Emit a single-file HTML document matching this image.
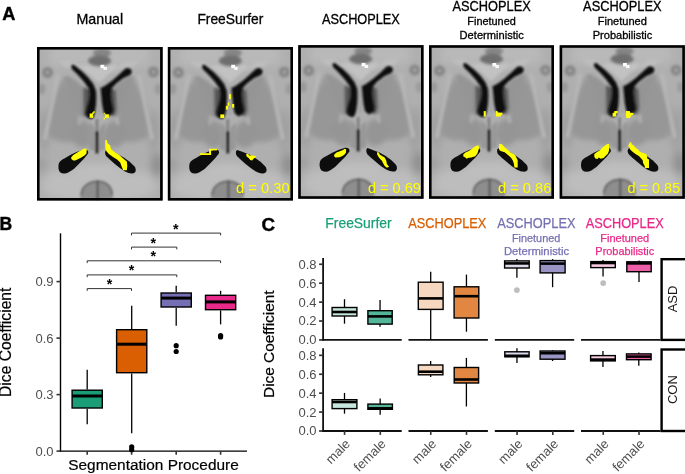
<!DOCTYPE html>
<html><head><meta charset="utf-8"><style>
html,body{margin:0;padding:0;background:#fff;}
svg{display:block;}
</style></head><body>
<svg width="685" height="474" viewBox="0 0 685 474">
<defs>
<filter id="fb5" x="-50%" y="-50%" width="200%" height="200%"><feGaussianBlur stdDeviation="4"/></filter>
<filter id="fb2" x="-50%" y="-50%" width="200%" height="200%"><feGaussianBlur stdDeviation="1.8"/></filter>
<filter id="fb1" x="-50%" y="-50%" width="200%" height="200%"><feGaussianBlur stdDeviation="1"/></filter>
<filter id="fb08" x="-20%" y="-20%" width="140%" height="140%"><feGaussianBlur stdDeviation="0.75"/></filter>
<filter id="fb05" x="-50%" y="-50%" width="200%" height="200%"><feGaussianBlur stdDeviation="0.5"/></filter>
<filter id="fb03" x="-20%" y="-20%" width="140%" height="140%"><feGaussianBlur stdDeviation="0.3"/></filter>
<filter id="fb25" x="-50%" y="-50%" width="200%" height="200%"><feGaussianBlur stdDeviation="2.6"/></filter>
<filter id="fb11" x="-30%" y="-30%" width="160%" height="160%"><feGaussianBlur stdDeviation="1.05"/></filter>
</defs>
<rect width="685" height="474" fill="#fff"/>
<text x="2.3" y="19.8" font-family="'Liberation Sans', Arial, sans-serif" font-weight="bold" font-size="18.2" fill="#000" stroke="#000" stroke-width="0.4">A</text>
<text x="99.8" y="23.9" text-anchor="middle" font-family="'Liberation Sans', Arial, sans-serif" font-size="14.2" textLength="46.7" lengthAdjust="spacingAndGlyphs" stroke="#000" stroke-width="0.3">Manual</text>
<text x="230.4" y="23.8" text-anchor="middle" font-family="'Liberation Sans', Arial, sans-serif" font-size="14.2" textLength="65.9" lengthAdjust="spacingAndGlyphs" stroke="#000" stroke-width="0.3">FreeSurfer</text>
<text x="360.9" y="23.8" text-anchor="middle" font-family="'Liberation Sans', Arial, sans-serif" font-size="14.1" textLength="77.9" lengthAdjust="spacingAndGlyphs" stroke="#000" stroke-width="0.3">ASCHOPLEX</text>
<text x="491.6" y="10.9" text-anchor="middle" font-family="'Liberation Sans', Arial, sans-serif" font-size="14.1" textLength="78.2" lengthAdjust="spacingAndGlyphs" stroke="#000" stroke-width="0.3">ASCHOPLEX</text>
<text x="491.55" y="24.9" text-anchor="middle" font-family="'Liberation Sans', Arial, sans-serif" font-size="11.1" textLength="48.5" lengthAdjust="spacingAndGlyphs" stroke="#000" stroke-width="0.3">Finetuned</text>
<text x="491.7" y="38.9" text-anchor="middle" font-family="'Liberation Sans', Arial, sans-serif" font-size="11.1" textLength="64.2" lengthAdjust="spacingAndGlyphs" stroke="#000" stroke-width="0.3">Deterministic</text>
<text x="622.3" y="10.9" text-anchor="middle" font-family="'Liberation Sans', Arial, sans-serif" font-size="14.1" textLength="78.4" lengthAdjust="spacingAndGlyphs" stroke="#000" stroke-width="0.3">ASCHOPLEX</text>
<text x="622.3" y="24.9" text-anchor="middle" font-family="'Liberation Sans', Arial, sans-serif" font-size="11.1" textLength="49.2" lengthAdjust="spacingAndGlyphs" stroke="#000" stroke-width="0.3">Finetuned</text>
<text x="622.5" y="38.9" text-anchor="middle" font-family="'Liberation Sans', Arial, sans-serif" font-size="11.1" textLength="59.6" lengthAdjust="spacingAndGlyphs" stroke="#000" stroke-width="0.3">Probabilistic</text>
<g transform="translate(37.0,47.0)">
<svg x="0" y="0" width="125.7" height="153.6" overflow="hidden">
<rect x="0" y="0" width="130" height="160" fill="#afafaf"/>
<g filter="url(#fb5)">
<rect x="12" y="0" width="100" height="18" fill="#b9b9b9"/>
<ellipse cx="61" cy="123" rx="26" ry="7" fill="#bfbfbf"/>
<path d="M8,128 C25,120 40,128 61,131 C82,128 98,120 116,128 L116,134 C98,128 82,134 61,137 C40,134 25,128 8,134 Z" fill="#bdbdbd"/>
<ellipse cx="62" cy="140" rx="58" ry="16" fill="#bdbdbd"/>
<ellipse cx="120" cy="118" rx="6" ry="12" fill="#8c8c8c"/>
<ellipse cx="7" cy="84" rx="5.5" ry="22" fill="#9d9d9d"/>
<ellipse cx="117" cy="84" rx="5.5" ry="22" fill="#9d9d9d"/>
<ellipse cx="4" cy="118" rx="5" ry="8" fill="#9a9a9a"/>
</g>
<g filter="url(#fb25)">
<path d="M27,30 C35,40 41,50 43,65 C43,78 41,88 38,94 C30,97 18,95 10,88 C11,70 14,50 27,30 Z" fill="#979797"/>
<path d="M96,30 C88,40 82,50 80,65 C80,78 82,88 85,94 C93,97 105,95 113,88 C112,70 109,50 96,30 Z" fill="#979797"/>
<ellipse cx="45" cy="87" rx="12" ry="14" transform="rotate(-25 45 87)" fill="#959595"/>
<ellipse cx="78" cy="87" rx="12" ry="14" transform="rotate(25 78 87)" fill="#959595"/>
</g>
<g filter="url(#fb2)">
<path d="M19,28 C16,45 12,65 6,92 L9.5,93 C15,66 19,45 23,28 Z" fill="#b8b8b8"/>
<path d="M104,28 C107,45 111,65 117,92 L113.5,93 C108,66 104,45 100,28 Z" fill="#b8b8b8"/>
<path d="M31,26 C38,38 44,50 46,62 C46,68 45,74 43,78 L40.5,77 C42,72 43,67 43,62 C41,51 35,40 28,28 Z" fill="#afafaf"/>
<path d="M92,26 C85,38 79,50 77,62 C77,68 78,74 80,78 L82.5,77 C81,72 80,67 80,62 C82,51 88,40 95,28 Z" fill="#b4b4b4"/>
<path d="M48.5,42 L39.5,34 L30.5,28.5 L26.5,30 L30.5,42 L35.5,55 L39.5,68 L46.5,70 Z" fill="#959595"/>
<path d="M75,42 L84,34 L93,28.5 L97,30 L93,42 L88,55 L84,68 L77,70 Z" fill="#959595"/>
<path d="M22,14 L36,14 L50,26 L40,22 L28,20 Z" fill="#bdbdbd"/>
<path d="M102,14 L88,14 L74,26 L84,22 L96,20 Z" fill="#bdbdbd"/>
<polygon points="42,18 62,36 82,18" fill="#c2c2c2"/>
<rect x="60.4" y="40" width="3.2" height="28" fill="#a2a2a2"/>
<ellipse cx="65" cy="6" rx="9" ry="4.5" fill="#858585"/>
<ellipse cx="62.5" cy="14" rx="11.5" ry="5.5" fill="#6e6e6e"/>
<circle cx="10.5" cy="25.5" r="5.5" fill="#868686"/>
<circle cx="116.5" cy="25" r="5.5" fill="#888888"/>
<ellipse cx="5" cy="42" rx="3.5" ry="5.5" fill="#999"/>
<ellipse cx="121" cy="42" rx="3.5" ry="5.5" fill="#9c9c9c"/>
</g>
<g filter="url(#fb1)">
<circle cx="10.5" cy="25.5" r="1.8" fill="#a4a4a4"/>
<circle cx="116.5" cy="25" r="1.8" fill="#a4a4a4"/>
<path d="M43,152 C43,140 51,133.5 60.5,133.5 C70,133.5 76,140 76,152 Z" fill="#8e8e8e"/>
<path d="M44.5,148 C44.5,140 51.5,134.5 60.5,134.5 C69.5,134.5 75,140 75,148" fill="none" stroke="#6e6e6e" stroke-width="2.2"/>
<rect x="59.5" y="133.5" width="2.2" height="20" fill="#5a5a5a"/>
<path d="M52,76 L57,80 L58,104 L52,102 Z" fill="#989898"/>
<path d="M68,76 L63,80 L62,104 L68,102 Z" fill="#989898"/>
<rect x="58.6" y="72" width="2.8" height="14" fill="#808080"/>
<rect x="58.3" y="84" width="3.4" height="22.5" rx="1.6" fill="#2c2c2c"/>
</g>
<g filter="url(#fb2)" fill="#555">
<path d="M46.5,40 L54,43 L54,71 L46.5,69 Z"/>
<path d="M72.5,40 L78.5,44 L79.5,63 L77.5,69 L72.5,68 Z"/>
</g>
<g filter="url(#fb11)" fill="#101010">
<path d="M34.2,19.2 C35,17.3 37,17.6 38.1,18.8 L45.3,24.5 L51.7,30.9 L56.5,37.3 L59,43.7 L59.3,50.1 L59,58.2 L57.8,66.2 L56.5,70.2 C55.5,71.8 54,72.2 53.3,71.8 L50.1,70.2 L48.5,66.2 L50.1,59.8 L52,53.3 L52.5,46.9 L51.8,41.5 L46.6,34.3 L40.8,27.8 L34.9,22.0 Z"/>
<path d="M64.4,40.8 L69.2,38 L75.6,33.2 L82.1,27.6 L88.5,21.5 C90.5,20.3 93.8,21 94.6,23.6 C95,26.2 93.8,27.8 92.5,28.2 L86.1,31.2 L78.9,36.7 L74.8,41.3 L74,46.9 L74.8,55 L76.4,63 L75.6,66.2 L70.8,69.4 L66.8,66.2 L65.2,58.2 L64.4,50.1 L63.6,40.5 Z"/>
</g>
<g filter="url(#fb08)" fill="#0e0e0e">
<path d="M50.3,103.3 C51.5,104 51.8,106.5 50.3,107.6 L46.9,111.8 L41.8,116.9 L36.8,121.9 L31.7,125.3 C29,126.8 25.5,127 23.3,125.5 C21.3,123.5 21,119.5 21.8,116.5 C22.8,114 25,112.5 27.8,111.2 L34.1,107.6 L40.1,104.8 L46.9,102.7 C48.5,102.4 49.6,102.7 50.3,103.3 Z"/>
<path d="M69.4,103 L74.5,104.8 L81.2,107.4 L87.1,110.7 L93,115 L97.3,119.2 C99,121 99.3,124.5 97.5,125.8 C95.5,127 92,126.6 88,124.5 L82.9,121.1 L77.8,116.9 L72.8,112.6 L69.4,109.3 C67.8,107.5 67.5,104 69.4,103 Z"/>
</g>
<g filter="url(#fb05)"><rect x="63.4" y="17.8" width="3.9" height="3.4" fill="#ffffff"/><rect x="66.4" y="19.8" width="3.5" height="3.1" fill="#f8f8f8"/></g>
<g filter="url(#fb03)"><rect x="52.6" y="66.5" width="3.50" height="4.30" fill="#ffff00"/>
<rect x="56.2" y="64.3" width="1.60" height="1.50" fill="#ffff00"/>
<rect x="55.2" y="65.3" width="1.60" height="1.70" fill="#ffff00"/>
<rect x="67.8" y="67.3" width="4.10" height="3.50" fill="#ffff00"/>
<rect x="66.6" y="65.9" width="1.40" height="1.30" fill="#ffff00"/>
<rect x="66.6" y="70.9" width="1.40" height="1.50" fill="#ffff00"/>
<polygon points="34.1,110.5 36.2,107.9 38.7,106.4 42.3,104.3 45.9,102.3 48.4,101.3 49.7,102.3 49.5,106.4 47.4,108.4 44.3,110.5 41.3,112 38.2,113.5 36.2,113.5 34.3,112" fill="#ffff00"/>
<polygon points="68.4,93.1 69.9,93.1 70.4,96.2 73,98.2 74,102.3 78.1,105.4 82.2,107.9 86.2,111.5 89.8,114.6 90.3,118.7 89.8,123.3 86.2,123.3 84.7,119.7 83.2,115.6 80.1,112.5 76,110 71.9,106.9 69.4,104.3 68.4,101.3 68.2,96.2" fill="#ffff00"/></g>
</svg>
<rect x="1.3" y="1.3" width="123.10" height="151.00" fill="none" stroke="#000" stroke-width="2.6"/>
</g>
<g transform="translate(167.8,47.0)">
<svg x="0" y="0" width="125.2" height="153.6" overflow="hidden">
<rect x="0" y="0" width="130" height="160" fill="#afafaf"/>
<g filter="url(#fb5)">
<rect x="12" y="0" width="100" height="18" fill="#b9b9b9"/>
<ellipse cx="61" cy="123" rx="26" ry="7" fill="#bfbfbf"/>
<path d="M8,128 C25,120 40,128 61,131 C82,128 98,120 116,128 L116,134 C98,128 82,134 61,137 C40,134 25,128 8,134 Z" fill="#bdbdbd"/>
<ellipse cx="62" cy="140" rx="58" ry="16" fill="#bdbdbd"/>
<ellipse cx="120" cy="118" rx="6" ry="12" fill="#8c8c8c"/>
<ellipse cx="7" cy="84" rx="5.5" ry="22" fill="#9d9d9d"/>
<ellipse cx="117" cy="84" rx="5.5" ry="22" fill="#9d9d9d"/>
<ellipse cx="4" cy="118" rx="5" ry="8" fill="#9a9a9a"/>
</g>
<g filter="url(#fb25)">
<path d="M27,30 C35,40 41,50 43,65 C43,78 41,88 38,94 C30,97 18,95 10,88 C11,70 14,50 27,30 Z" fill="#979797"/>
<path d="M96,30 C88,40 82,50 80,65 C80,78 82,88 85,94 C93,97 105,95 113,88 C112,70 109,50 96,30 Z" fill="#979797"/>
<ellipse cx="45" cy="87" rx="12" ry="14" transform="rotate(-25 45 87)" fill="#959595"/>
<ellipse cx="78" cy="87" rx="12" ry="14" transform="rotate(25 78 87)" fill="#959595"/>
</g>
<g filter="url(#fb2)">
<path d="M19,28 C16,45 12,65 6,92 L9.5,93 C15,66 19,45 23,28 Z" fill="#b8b8b8"/>
<path d="M104,28 C107,45 111,65 117,92 L113.5,93 C108,66 104,45 100,28 Z" fill="#b8b8b8"/>
<path d="M31,26 C38,38 44,50 46,62 C46,68 45,74 43,78 L40.5,77 C42,72 43,67 43,62 C41,51 35,40 28,28 Z" fill="#afafaf"/>
<path d="M92,26 C85,38 79,50 77,62 C77,68 78,74 80,78 L82.5,77 C81,72 80,67 80,62 C82,51 88,40 95,28 Z" fill="#b4b4b4"/>
<path d="M48.5,42 L39.5,34 L30.5,28.5 L26.5,30 L30.5,42 L35.5,55 L39.5,68 L46.5,70 Z" fill="#959595"/>
<path d="M75,42 L84,34 L93,28.5 L97,30 L93,42 L88,55 L84,68 L77,70 Z" fill="#959595"/>
<path d="M22,14 L36,14 L50,26 L40,22 L28,20 Z" fill="#bdbdbd"/>
<path d="M102,14 L88,14 L74,26 L84,22 L96,20 Z" fill="#bdbdbd"/>
<polygon points="42,18 62,36 82,18" fill="#c2c2c2"/>
<rect x="60.4" y="40" width="3.2" height="28" fill="#a2a2a2"/>
<ellipse cx="65" cy="6" rx="9" ry="4.5" fill="#858585"/>
<ellipse cx="62.5" cy="14" rx="11.5" ry="5.5" fill="#6e6e6e"/>
<circle cx="10.5" cy="25.5" r="5.5" fill="#868686"/>
<circle cx="116.5" cy="25" r="5.5" fill="#888888"/>
<ellipse cx="5" cy="42" rx="3.5" ry="5.5" fill="#999"/>
<ellipse cx="121" cy="42" rx="3.5" ry="5.5" fill="#9c9c9c"/>
</g>
<g filter="url(#fb1)">
<circle cx="10.5" cy="25.5" r="1.8" fill="#a4a4a4"/>
<circle cx="116.5" cy="25" r="1.8" fill="#a4a4a4"/>
<path d="M43,152 C43,140 51,133.5 60.5,133.5 C70,133.5 76,140 76,152 Z" fill="#8e8e8e"/>
<path d="M44.5,148 C44.5,140 51.5,134.5 60.5,134.5 C69.5,134.5 75,140 75,148" fill="none" stroke="#6e6e6e" stroke-width="2.2"/>
<rect x="59.5" y="133.5" width="2.2" height="20" fill="#5a5a5a"/>
<path d="M52,76 L57,80 L58,104 L52,102 Z" fill="#989898"/>
<path d="M68,76 L63,80 L62,104 L68,102 Z" fill="#989898"/>
<rect x="58.6" y="72" width="2.8" height="14" fill="#808080"/>
<rect x="58.3" y="84" width="3.4" height="22.5" rx="1.6" fill="#2c2c2c"/>
</g>
<g filter="url(#fb2)" fill="#555">
<path d="M46.5,40 L54,43 L54,71 L46.5,69 Z"/>
<path d="M72.5,40 L78.5,44 L79.5,63 L77.5,69 L72.5,68 Z"/>
</g>
<g filter="url(#fb11)" fill="#101010">
<path d="M34.2,19.2 C35,17.3 37,17.6 38.1,18.8 L45.3,24.5 L51.7,30.9 L56.5,37.3 L59,43.7 L59.3,50.1 L59,58.2 L57.8,66.2 L56.5,70.2 C55.5,71.8 54,72.2 53.3,71.8 L50.1,70.2 L48.5,66.2 L50.1,59.8 L52,53.3 L52.5,46.9 L51.8,41.5 L46.6,34.3 L40.8,27.8 L34.9,22.0 Z"/>
<path d="M64.4,40.8 L69.2,38 L75.6,33.2 L82.1,27.6 L88.5,21.5 C90.5,20.3 93.8,21 94.6,23.6 C95,26.2 93.8,27.8 92.5,28.2 L86.1,31.2 L78.9,36.7 L74.8,41.3 L74,46.9 L74.8,55 L76.4,63 L75.6,66.2 L70.8,69.4 L66.8,66.2 L65.2,58.2 L64.4,50.1 L63.6,40.5 Z"/>
</g>
<g filter="url(#fb08)" fill="#0e0e0e">
<path d="M50.3,103.3 C51.5,104 51.8,106.5 50.3,107.6 L46.9,111.8 L41.8,116.9 L36.8,121.9 L31.7,125.3 C29,126.8 25.5,127 23.3,125.5 C21.3,123.5 21,119.5 21.8,116.5 C22.8,114 25,112.5 27.8,111.2 L34.1,107.6 L40.1,104.8 L46.9,102.7 C48.5,102.4 49.6,102.7 50.3,103.3 Z"/>
<path d="M69.4,103 L74.5,104.8 L81.2,107.4 L87.1,110.7 L93,115 L97.3,119.2 C99,121 99.3,124.5 97.5,125.8 C95.5,127 92,126.6 88,124.5 L82.9,121.1 L77.8,116.9 L72.8,112.6 L69.4,109.3 C67.8,107.5 67.5,104 69.4,103 Z"/>
</g>
<g filter="url(#fb05)"><rect x="63.4" y="17.8" width="3.9" height="3.4" fill="#ffffff"/><rect x="66.4" y="19.8" width="3.5" height="3.1" fill="#f8f8f8"/></g>
<g filter="url(#fb03)"><rect x="61.2" y="47.1" width="2.00" height="4.90" fill="#ffff00"/>
<rect x="59.9" y="55.4" width="1.50" height="3.50" fill="#ffff00"/>
<rect x="58.1" y="58.9" width="2.20" height="3.70" fill="#ffff00"/>
<rect x="64.3" y="57.0" width="2.10" height="3.70" fill="#ffff00"/>
<rect x="52.5" y="67.4" width="3.90" height="3.60" fill="#ffff00"/>
<rect x="32.3" y="106.2" width="10.20" height="1.80" fill="#ffff00"/>
<rect x="41.3" y="102.3" width="2.00" height="5.70" fill="#ffff00"/>
<rect x="41.5" y="101.8" width="7.70" height="1.60" fill="#ffff00"/>
<polygon points="78.3,106.9 80.3,106.9 81.4,108.4 84.4,108.4 88.5,108.9 87.5,110.5 85.4,112 84.4,113.5 82.4,113 80.9,111 78.8,109.5" fill="#ffff00"/></g>
</svg>
<text x="121.8" y="145.6" text-anchor="end" font-family="'Liberation Sans', Arial, sans-serif" font-size="14.3" fill="#ffff00" textLength="53.6" lengthAdjust="spacingAndGlyphs">d = 0.30</text>
<rect x="1.3" y="1.3" width="122.60" height="151.00" fill="none" stroke="#000" stroke-width="2.6"/>
</g>
<g transform="translate(298.2,45.1)">
<svg x="0" y="0" width="125.4" height="153.7" overflow="hidden">
<rect x="0" y="0" width="130" height="160" fill="#afafaf"/>
<g filter="url(#fb5)">
<rect x="12" y="0" width="100" height="18" fill="#b9b9b9"/>
<ellipse cx="61" cy="123" rx="26" ry="7" fill="#bfbfbf"/>
<path d="M8,128 C25,120 40,128 61,131 C82,128 98,120 116,128 L116,134 C98,128 82,134 61,137 C40,134 25,128 8,134 Z" fill="#bdbdbd"/>
<ellipse cx="62" cy="140" rx="58" ry="16" fill="#bdbdbd"/>
<ellipse cx="120" cy="118" rx="6" ry="12" fill="#8c8c8c"/>
<ellipse cx="7" cy="84" rx="5.5" ry="22" fill="#9d9d9d"/>
<ellipse cx="117" cy="84" rx="5.5" ry="22" fill="#9d9d9d"/>
<ellipse cx="4" cy="118" rx="5" ry="8" fill="#9a9a9a"/>
</g>
<g filter="url(#fb25)">
<path d="M27,30 C35,40 41,50 43,65 C43,78 41,88 38,94 C30,97 18,95 10,88 C11,70 14,50 27,30 Z" fill="#979797"/>
<path d="M96,30 C88,40 82,50 80,65 C80,78 82,88 85,94 C93,97 105,95 113,88 C112,70 109,50 96,30 Z" fill="#979797"/>
<ellipse cx="45" cy="87" rx="12" ry="14" transform="rotate(-25 45 87)" fill="#959595"/>
<ellipse cx="78" cy="87" rx="12" ry="14" transform="rotate(25 78 87)" fill="#959595"/>
</g>
<g filter="url(#fb2)">
<path d="M19,28 C16,45 12,65 6,92 L9.5,93 C15,66 19,45 23,28 Z" fill="#b8b8b8"/>
<path d="M104,28 C107,45 111,65 117,92 L113.5,93 C108,66 104,45 100,28 Z" fill="#b8b8b8"/>
<path d="M31,26 C38,38 44,50 46,62 C46,68 45,74 43,78 L40.5,77 C42,72 43,67 43,62 C41,51 35,40 28,28 Z" fill="#afafaf"/>
<path d="M92,26 C85,38 79,50 77,62 C77,68 78,74 80,78 L82.5,77 C81,72 80,67 80,62 C82,51 88,40 95,28 Z" fill="#b4b4b4"/>
<path d="M48.5,42 L39.5,34 L30.5,28.5 L26.5,30 L30.5,42 L35.5,55 L39.5,68 L46.5,70 Z" fill="#959595"/>
<path d="M75,42 L84,34 L93,28.5 L97,30 L93,42 L88,55 L84,68 L77,70 Z" fill="#959595"/>
<path d="M22,14 L36,14 L50,26 L40,22 L28,20 Z" fill="#bdbdbd"/>
<path d="M102,14 L88,14 L74,26 L84,22 L96,20 Z" fill="#bdbdbd"/>
<polygon points="42,18 62,36 82,18" fill="#c2c2c2"/>
<rect x="60.4" y="40" width="3.2" height="28" fill="#a2a2a2"/>
<ellipse cx="65" cy="6" rx="9" ry="4.5" fill="#858585"/>
<ellipse cx="62.5" cy="14" rx="11.5" ry="5.5" fill="#6e6e6e"/>
<circle cx="10.5" cy="25.5" r="5.5" fill="#868686"/>
<circle cx="116.5" cy="25" r="5.5" fill="#888888"/>
<ellipse cx="5" cy="42" rx="3.5" ry="5.5" fill="#999"/>
<ellipse cx="121" cy="42" rx="3.5" ry="5.5" fill="#9c9c9c"/>
</g>
<g filter="url(#fb1)">
<circle cx="10.5" cy="25.5" r="1.8" fill="#a4a4a4"/>
<circle cx="116.5" cy="25" r="1.8" fill="#a4a4a4"/>
<path d="M43,152 C43,140 51,133.5 60.5,133.5 C70,133.5 76,140 76,152 Z" fill="#8e8e8e"/>
<path d="M44.5,148 C44.5,140 51.5,134.5 60.5,134.5 C69.5,134.5 75,140 75,148" fill="none" stroke="#6e6e6e" stroke-width="2.2"/>
<rect x="59.5" y="133.5" width="2.2" height="20" fill="#5a5a5a"/>
<path d="M52,76 L57,80 L58,104 L52,102 Z" fill="#989898"/>
<path d="M68,76 L63,80 L62,104 L68,102 Z" fill="#989898"/>
<rect x="58.6" y="72" width="2.8" height="14" fill="#808080"/>
<rect x="58.3" y="84" width="3.4" height="22.5" rx="1.6" fill="#2c2c2c"/>
</g>
<g filter="url(#fb2)" fill="#555">
<path d="M46.5,40 L54,43 L54,71 L46.5,69 Z"/>
<path d="M72.5,40 L78.5,44 L79.5,63 L77.5,69 L72.5,68 Z"/>
</g>
<g filter="url(#fb11)" fill="#101010">
<path d="M34.2,19.2 C35,17.3 37,17.6 38.1,18.8 L45.3,24.5 L51.7,30.9 L56.5,37.3 L59,43.7 L59.3,50.1 L59,58.2 L57.8,66.2 L56.5,70.2 C55.5,71.8 54,72.2 53.3,71.8 L50.1,70.2 L48.5,66.2 L50.1,59.8 L52,53.3 L52.5,46.9 L51.8,41.5 L46.6,34.3 L40.8,27.8 L34.9,22.0 Z"/>
<path d="M64.4,40.8 L69.2,38 L75.6,33.2 L82.1,27.6 L88.5,21.5 C90.5,20.3 93.8,21 94.6,23.6 C95,26.2 93.8,27.8 92.5,28.2 L86.1,31.2 L78.9,36.7 L74.8,41.3 L74,46.9 L74.8,55 L76.4,63 L75.6,66.2 L70.8,69.4 L66.8,66.2 L65.2,58.2 L64.4,50.1 L63.6,40.5 Z"/>
</g>
<g filter="url(#fb08)" fill="#0e0e0e">
<path d="M50.3,103.3 C51.5,104 51.8,106.5 50.3,107.6 L46.9,111.8 L41.8,116.9 L36.8,121.9 L31.7,125.3 C29,126.8 25.5,127 23.3,125.5 C21.3,123.5 21,119.5 21.8,116.5 C22.8,114 25,112.5 27.8,111.2 L34.1,107.6 L40.1,104.8 L46.9,102.7 C48.5,102.4 49.6,102.7 50.3,103.3 Z"/>
<path d="M69.4,103 L74.5,104.8 L81.2,107.4 L87.1,110.7 L93,115 L97.3,119.2 C99,121 99.3,124.5 97.5,125.8 C95.5,127 92,126.6 88,124.5 L82.9,121.1 L77.8,116.9 L72.8,112.6 L69.4,109.3 C67.8,107.5 67.5,104 69.4,103 Z"/>
</g>
<g filter="url(#fb05)"><rect x="63.4" y="17.8" width="3.9" height="3.4" fill="#ffffff"/><rect x="66.4" y="19.8" width="3.5" height="3.1" fill="#f8f8f8"/></g>
<g filter="url(#fb03)"><polygon points="36.1,109.5 38.3,107.3 41.6,106.2 44.3,105.2 46.5,103.7 47.9,104.1 47.8,107.3 46.3,109.5 43.8,111.2 41,112.1 37.2,112.3 35.9,111.2" fill="#ffff00"/>
<polygon points="79.1,106.8 80.5,107.3 81.5,109.5 84.3,111.2 86.5,112.3 88.1,115.6 88.7,118.8 90.9,121.6 88.7,122.7 86.5,121 84.8,117.8 83.7,115.6 81.5,113.4 79.9,111.2 78.8,109" fill="#ffff00"/></g>
</svg>
<text x="122.7" y="147.5" text-anchor="end" font-family="'Liberation Sans', Arial, sans-serif" font-size="14.3" fill="#ffff00" textLength="52.9" lengthAdjust="spacingAndGlyphs">d = 0.69</text>
<rect x="1.3" y="1.3" width="122.80" height="151.10" fill="none" stroke="#000" stroke-width="2.6"/>
</g>
<g transform="translate(429.0,45.2)">
<svg x="0" y="0" width="125.0" height="153.6" overflow="hidden">
<rect x="0" y="0" width="130" height="160" fill="#afafaf"/>
<g filter="url(#fb5)">
<rect x="12" y="0" width="100" height="18" fill="#b9b9b9"/>
<ellipse cx="61" cy="123" rx="26" ry="7" fill="#bfbfbf"/>
<path d="M8,128 C25,120 40,128 61,131 C82,128 98,120 116,128 L116,134 C98,128 82,134 61,137 C40,134 25,128 8,134 Z" fill="#bdbdbd"/>
<ellipse cx="62" cy="140" rx="58" ry="16" fill="#bdbdbd"/>
<ellipse cx="120" cy="118" rx="6" ry="12" fill="#8c8c8c"/>
<ellipse cx="7" cy="84" rx="5.5" ry="22" fill="#9d9d9d"/>
<ellipse cx="117" cy="84" rx="5.5" ry="22" fill="#9d9d9d"/>
<ellipse cx="4" cy="118" rx="5" ry="8" fill="#9a9a9a"/>
</g>
<g filter="url(#fb25)">
<path d="M27,30 C35,40 41,50 43,65 C43,78 41,88 38,94 C30,97 18,95 10,88 C11,70 14,50 27,30 Z" fill="#979797"/>
<path d="M96,30 C88,40 82,50 80,65 C80,78 82,88 85,94 C93,97 105,95 113,88 C112,70 109,50 96,30 Z" fill="#979797"/>
<ellipse cx="45" cy="87" rx="12" ry="14" transform="rotate(-25 45 87)" fill="#959595"/>
<ellipse cx="78" cy="87" rx="12" ry="14" transform="rotate(25 78 87)" fill="#959595"/>
</g>
<g filter="url(#fb2)">
<path d="M19,28 C16,45 12,65 6,92 L9.5,93 C15,66 19,45 23,28 Z" fill="#b8b8b8"/>
<path d="M104,28 C107,45 111,65 117,92 L113.5,93 C108,66 104,45 100,28 Z" fill="#b8b8b8"/>
<path d="M31,26 C38,38 44,50 46,62 C46,68 45,74 43,78 L40.5,77 C42,72 43,67 43,62 C41,51 35,40 28,28 Z" fill="#afafaf"/>
<path d="M92,26 C85,38 79,50 77,62 C77,68 78,74 80,78 L82.5,77 C81,72 80,67 80,62 C82,51 88,40 95,28 Z" fill="#b4b4b4"/>
<path d="M48.5,42 L39.5,34 L30.5,28.5 L26.5,30 L30.5,42 L35.5,55 L39.5,68 L46.5,70 Z" fill="#959595"/>
<path d="M75,42 L84,34 L93,28.5 L97,30 L93,42 L88,55 L84,68 L77,70 Z" fill="#959595"/>
<path d="M22,14 L36,14 L50,26 L40,22 L28,20 Z" fill="#bdbdbd"/>
<path d="M102,14 L88,14 L74,26 L84,22 L96,20 Z" fill="#bdbdbd"/>
<polygon points="42,18 62,36 82,18" fill="#c2c2c2"/>
<rect x="60.4" y="40" width="3.2" height="28" fill="#a2a2a2"/>
<ellipse cx="65" cy="6" rx="9" ry="4.5" fill="#858585"/>
<ellipse cx="62.5" cy="14" rx="11.5" ry="5.5" fill="#6e6e6e"/>
<circle cx="10.5" cy="25.5" r="5.5" fill="#868686"/>
<circle cx="116.5" cy="25" r="5.5" fill="#888888"/>
<ellipse cx="5" cy="42" rx="3.5" ry="5.5" fill="#999"/>
<ellipse cx="121" cy="42" rx="3.5" ry="5.5" fill="#9c9c9c"/>
</g>
<g filter="url(#fb1)">
<circle cx="10.5" cy="25.5" r="1.8" fill="#a4a4a4"/>
<circle cx="116.5" cy="25" r="1.8" fill="#a4a4a4"/>
<path d="M43,152 C43,140 51,133.5 60.5,133.5 C70,133.5 76,140 76,152 Z" fill="#8e8e8e"/>
<path d="M44.5,148 C44.5,140 51.5,134.5 60.5,134.5 C69.5,134.5 75,140 75,148" fill="none" stroke="#6e6e6e" stroke-width="2.2"/>
<rect x="59.5" y="133.5" width="2.2" height="20" fill="#5a5a5a"/>
<path d="M52,76 L57,80 L58,104 L52,102 Z" fill="#989898"/>
<path d="M68,76 L63,80 L62,104 L68,102 Z" fill="#989898"/>
<rect x="58.6" y="72" width="2.8" height="14" fill="#808080"/>
<rect x="58.3" y="84" width="3.4" height="22.5" rx="1.6" fill="#2c2c2c"/>
</g>
<g filter="url(#fb2)" fill="#555">
<path d="M46.5,40 L54,43 L54,71 L46.5,69 Z"/>
<path d="M72.5,40 L78.5,44 L79.5,63 L77.5,69 L72.5,68 Z"/>
</g>
<g filter="url(#fb11)" fill="#101010">
<path d="M34.2,19.2 C35,17.3 37,17.6 38.1,18.8 L45.3,24.5 L51.7,30.9 L56.5,37.3 L59,43.7 L59.3,50.1 L59,58.2 L57.8,66.2 L56.5,70.2 C55.5,71.8 54,72.2 53.3,71.8 L50.1,70.2 L48.5,66.2 L50.1,59.8 L52,53.3 L52.5,46.9 L51.8,41.5 L46.6,34.3 L40.8,27.8 L34.9,22.0 Z"/>
<path d="M64.4,40.8 L69.2,38 L75.6,33.2 L82.1,27.6 L88.5,21.5 C90.5,20.3 93.8,21 94.6,23.6 C95,26.2 93.8,27.8 92.5,28.2 L86.1,31.2 L78.9,36.7 L74.8,41.3 L74,46.9 L74.8,55 L76.4,63 L75.6,66.2 L70.8,69.4 L66.8,66.2 L65.2,58.2 L64.4,50.1 L63.6,40.5 Z"/>
</g>
<g filter="url(#fb08)" fill="#0e0e0e">
<path d="M50.3,103.3 C51.5,104 51.8,106.5 50.3,107.6 L46.9,111.8 L41.8,116.9 L36.8,121.9 L31.7,125.3 C29,126.8 25.5,127 23.3,125.5 C21.3,123.5 21,119.5 21.8,116.5 C22.8,114 25,112.5 27.8,111.2 L34.1,107.6 L40.1,104.8 L46.9,102.7 C48.5,102.4 49.6,102.7 50.3,103.3 Z"/>
<path d="M69.4,103 L74.5,104.8 L81.2,107.4 L87.1,110.7 L93,115 L97.3,119.2 C99,121 99.3,124.5 97.5,125.8 C95.5,127 92,126.6 88,124.5 L82.9,121.1 L77.8,116.9 L72.8,112.6 L69.4,109.3 C67.8,107.5 67.5,104 69.4,103 Z"/>
</g>
<g filter="url(#fb05)"><rect x="63.4" y="17.8" width="3.9" height="3.4" fill="#ffffff"/><rect x="66.4" y="19.8" width="3.5" height="3.1" fill="#f8f8f8"/></g>
<g filter="url(#fb03)"><rect x="54.7" y="65.9" width="2.10" height="5.50" fill="#ffff00"/>
<polygon points="66.7,65.9 68.4,65.9 68.7,67.4 73.4,67.6 73.4,69.4 71.9,70.3 71.7,71.4 67,71.4" fill="#ffff00"/>
<polygon points="34.2,109.4 36.4,107.2 40.2,105.6 44.1,102.9 46.8,100.7 49.5,100.1 50.1,102.9 48.4,108.3 46.3,111.1 42.4,112.2 38.6,112.7 38,113.8 36.4,112.2 34.5,111.6" fill="#ffff00"/>
<polygon points="70.2,98.7 72.7,98.7 74,100.3 75.7,102 77.8,103.7 79.9,105.8 82,107.5 84.5,108.8 86.2,110.1 87.9,113.4 88.7,115.1 88.7,122.3 85.4,122.3 84.9,118.5 83.7,115.1 82,112.6 79.9,110.5 77.8,108.8 75.7,107.1 73.1,106.3 70.6,105.4 69.9,103.3" fill="#ffff00"/></g>
</svg>
<text x="122.3" y="147.4" text-anchor="end" font-family="'Liberation Sans', Arial, sans-serif" font-size="14.3" fill="#ffff00" textLength="53.3" lengthAdjust="spacingAndGlyphs">d = 0.86</text>
<rect x="1.3" y="1.3" width="122.40" height="151.00" fill="none" stroke="#000" stroke-width="2.6"/>
</g>
<g transform="translate(559.6,45.2)">
<svg x="0" y="0" width="125.3" height="153.6" overflow="hidden">
<rect x="0" y="0" width="130" height="160" fill="#afafaf"/>
<g filter="url(#fb5)">
<rect x="12" y="0" width="100" height="18" fill="#b9b9b9"/>
<ellipse cx="61" cy="123" rx="26" ry="7" fill="#bfbfbf"/>
<path d="M8,128 C25,120 40,128 61,131 C82,128 98,120 116,128 L116,134 C98,128 82,134 61,137 C40,134 25,128 8,134 Z" fill="#bdbdbd"/>
<ellipse cx="62" cy="140" rx="58" ry="16" fill="#bdbdbd"/>
<ellipse cx="120" cy="118" rx="6" ry="12" fill="#8c8c8c"/>
<ellipse cx="7" cy="84" rx="5.5" ry="22" fill="#9d9d9d"/>
<ellipse cx="117" cy="84" rx="5.5" ry="22" fill="#9d9d9d"/>
<ellipse cx="4" cy="118" rx="5" ry="8" fill="#9a9a9a"/>
</g>
<g filter="url(#fb25)">
<path d="M27,30 C35,40 41,50 43,65 C43,78 41,88 38,94 C30,97 18,95 10,88 C11,70 14,50 27,30 Z" fill="#979797"/>
<path d="M96,30 C88,40 82,50 80,65 C80,78 82,88 85,94 C93,97 105,95 113,88 C112,70 109,50 96,30 Z" fill="#979797"/>
<ellipse cx="45" cy="87" rx="12" ry="14" transform="rotate(-25 45 87)" fill="#959595"/>
<ellipse cx="78" cy="87" rx="12" ry="14" transform="rotate(25 78 87)" fill="#959595"/>
</g>
<g filter="url(#fb2)">
<path d="M19,28 C16,45 12,65 6,92 L9.5,93 C15,66 19,45 23,28 Z" fill="#b8b8b8"/>
<path d="M104,28 C107,45 111,65 117,92 L113.5,93 C108,66 104,45 100,28 Z" fill="#b8b8b8"/>
<path d="M31,26 C38,38 44,50 46,62 C46,68 45,74 43,78 L40.5,77 C42,72 43,67 43,62 C41,51 35,40 28,28 Z" fill="#afafaf"/>
<path d="M92,26 C85,38 79,50 77,62 C77,68 78,74 80,78 L82.5,77 C81,72 80,67 80,62 C82,51 88,40 95,28 Z" fill="#b4b4b4"/>
<path d="M48.5,42 L39.5,34 L30.5,28.5 L26.5,30 L30.5,42 L35.5,55 L39.5,68 L46.5,70 Z" fill="#959595"/>
<path d="M75,42 L84,34 L93,28.5 L97,30 L93,42 L88,55 L84,68 L77,70 Z" fill="#959595"/>
<path d="M22,14 L36,14 L50,26 L40,22 L28,20 Z" fill="#bdbdbd"/>
<path d="M102,14 L88,14 L74,26 L84,22 L96,20 Z" fill="#bdbdbd"/>
<polygon points="42,18 62,36 82,18" fill="#c2c2c2"/>
<rect x="60.4" y="40" width="3.2" height="28" fill="#a2a2a2"/>
<ellipse cx="65" cy="6" rx="9" ry="4.5" fill="#858585"/>
<ellipse cx="62.5" cy="14" rx="11.5" ry="5.5" fill="#6e6e6e"/>
<circle cx="10.5" cy="25.5" r="5.5" fill="#868686"/>
<circle cx="116.5" cy="25" r="5.5" fill="#888888"/>
<ellipse cx="5" cy="42" rx="3.5" ry="5.5" fill="#999"/>
<ellipse cx="121" cy="42" rx="3.5" ry="5.5" fill="#9c9c9c"/>
</g>
<g filter="url(#fb1)">
<circle cx="10.5" cy="25.5" r="1.8" fill="#a4a4a4"/>
<circle cx="116.5" cy="25" r="1.8" fill="#a4a4a4"/>
<path d="M43,152 C43,140 51,133.5 60.5,133.5 C70,133.5 76,140 76,152 Z" fill="#8e8e8e"/>
<path d="M44.5,148 C44.5,140 51.5,134.5 60.5,134.5 C69.5,134.5 75,140 75,148" fill="none" stroke="#6e6e6e" stroke-width="2.2"/>
<rect x="59.5" y="133.5" width="2.2" height="20" fill="#5a5a5a"/>
<path d="M52,76 L57,80 L58,104 L52,102 Z" fill="#989898"/>
<path d="M68,76 L63,80 L62,104 L68,102 Z" fill="#989898"/>
<rect x="58.6" y="72" width="2.8" height="14" fill="#808080"/>
<rect x="58.3" y="84" width="3.4" height="22.5" rx="1.6" fill="#2c2c2c"/>
</g>
<g filter="url(#fb2)" fill="#555">
<path d="M46.5,40 L54,43 L54,71 L46.5,69 Z"/>
<path d="M72.5,40 L78.5,44 L79.5,63 L77.5,69 L72.5,68 Z"/>
</g>
<g filter="url(#fb11)" fill="#101010">
<path d="M34.2,19.2 C35,17.3 37,17.6 38.1,18.8 L45.3,24.5 L51.7,30.9 L56.5,37.3 L59,43.7 L59.3,50.1 L59,58.2 L57.8,66.2 L56.5,70.2 C55.5,71.8 54,72.2 53.3,71.8 L50.1,70.2 L48.5,66.2 L50.1,59.8 L52,53.3 L52.5,46.9 L51.8,41.5 L46.6,34.3 L40.8,27.8 L34.9,22.0 Z"/>
<path d="M64.4,40.8 L69.2,38 L75.6,33.2 L82.1,27.6 L88.5,21.5 C90.5,20.3 93.8,21 94.6,23.6 C95,26.2 93.8,27.8 92.5,28.2 L86.1,31.2 L78.9,36.7 L74.8,41.3 L74,46.9 L74.8,55 L76.4,63 L75.6,66.2 L70.8,69.4 L66.8,66.2 L65.2,58.2 L64.4,50.1 L63.6,40.5 Z"/>
</g>
<g filter="url(#fb08)" fill="#0e0e0e">
<path d="M50.3,103.3 C51.5,104 51.8,106.5 50.3,107.6 L46.9,111.8 L41.8,116.9 L36.8,121.9 L31.7,125.3 C29,126.8 25.5,127 23.3,125.5 C21.3,123.5 21,119.5 21.8,116.5 C22.8,114 25,112.5 27.8,111.2 L34.1,107.6 L40.1,104.8 L46.9,102.7 C48.5,102.4 49.6,102.7 50.3,103.3 Z"/>
<path d="M69.4,103 L74.5,104.8 L81.2,107.4 L87.1,110.7 L93,115 L97.3,119.2 C99,121 99.3,124.5 97.5,125.8 C95.5,127 92,126.6 88,124.5 L82.9,121.1 L77.8,116.9 L72.8,112.6 L69.4,109.3 C67.8,107.5 67.5,104 69.4,103 Z"/>
</g>
<g filter="url(#fb05)"><rect x="63.4" y="17.8" width="3.9" height="3.4" fill="#ffffff"/><rect x="66.4" y="19.8" width="3.5" height="3.1" fill="#f8f8f8"/></g>
<g filter="url(#fb03)"><polygon points="54.7,65.9 58.2,65.9 58.2,67.6 56.5,68.2 56.5,71.2 53,71.2 53,67.9 54.7,67.4" fill="#ffff00"/>
<polygon points="66.4,65.9 70.2,65.9 70.5,67.6 73.7,67.9 73.7,69.4 71.9,70.3 70.8,71.7 70.5,72.9 66.7,72.9 66.4,70.6" fill="#ffff00"/>
<polygon points="34.7,108.9 37.4,106.7 40.2,105 42.9,102.3 45.7,100.1 48.4,98.5 49.5,99 49.5,105 48.4,108.3 46.2,110.5 44,112.7 41.3,113.5 39.1,112.2 38,113.8 35.8,113.3 34.7,111.6" fill="#ffff00"/>
<polygon points="70.4,97 71.7,97.4 72.1,99.1 74.2,100.3 75.9,102.5 78,104.1 80.1,106.3 82.7,107.5 85.2,108.4 87.3,109.6 87.7,113.4 89.4,114.3 89.4,122.7 85.6,122.7 84.8,120.2 83.5,117.7 83.1,115.1 81.4,113 79.3,110.9 76.7,109.2 74.2,107.5 72.1,105.8 70.4,104.1 70,102 68.3,100.8 69.2,99.5" fill="#ffff00"/></g>
</svg>
<text x="120.6" y="147.4" text-anchor="end" font-family="'Liberation Sans', Arial, sans-serif" font-size="14.3" fill="#ffff00" textLength="52.7" lengthAdjust="spacingAndGlyphs">d = 0.85</text>
<rect x="1.3" y="1.3" width="122.70" height="151.00" fill="none" stroke="#000" stroke-width="2.6"/>
</g>
<text x="-0.6" y="230.0" font-family="'Liberation Sans', Arial, sans-serif" font-weight="bold" font-size="17.5" stroke="#000" stroke-width="0.4">B</text>
<line x1="60.5" y1="233.3" x2="60.5" y2="451.8" stroke="#000" stroke-width="1.4"/>
<line x1="59.8" y1="451.1" x2="247" y2="451.1" stroke="#000" stroke-width="1.4"/>
<line x1="56.5" y1="451.10" x2="60.5" y2="451.10" stroke="#333" stroke-width="1.6"/>
<text x="53.6" y="455.75" text-anchor="end" font-family="'Liberation Sans', Arial, sans-serif" font-size="13" fill="#4d4d4d">0.0</text>
<line x1="56.5" y1="394.60" x2="60.5" y2="394.60" stroke="#333" stroke-width="1.6"/>
<text x="53.6" y="399.25" text-anchor="end" font-family="'Liberation Sans', Arial, sans-serif" font-size="13" fill="#4d4d4d">0.3</text>
<line x1="56.5" y1="338.10" x2="60.5" y2="338.10" stroke="#333" stroke-width="1.6"/>
<text x="53.6" y="342.75" text-anchor="end" font-family="'Liberation Sans', Arial, sans-serif" font-size="13" fill="#4d4d4d">0.6</text>
<line x1="56.5" y1="281.60" x2="60.5" y2="281.60" stroke="#333" stroke-width="1.6"/>
<text x="53.6" y="286.25" text-anchor="end" font-family="'Liberation Sans', Arial, sans-serif" font-size="13" fill="#4d4d4d">0.9</text>
<line x1="87.2" y1="451.1" x2="87.2" y2="454.8" stroke="#333" stroke-width="1.6"/>
<line x1="131.6" y1="451.1" x2="131.6" y2="454.8" stroke="#333" stroke-width="1.6"/>
<line x1="176.2" y1="451.1" x2="176.2" y2="454.8" stroke="#333" stroke-width="1.6"/>
<line x1="220.6" y1="451.1" x2="220.6" y2="454.8" stroke="#333" stroke-width="1.6"/>
<text x="153.5" y="470.1" text-anchor="middle" font-family="'Liberation Sans', Arial, sans-serif" font-size="15.4" textLength="170.5" lengthAdjust="spacingAndGlyphs" stroke="#000" stroke-width="0.2">Segmentation Procedure</text>
<text transform="translate(11.4,342.3) rotate(-90)" x="0" y="0" text-anchor="middle" font-family="'Liberation Sans', Arial, sans-serif" font-size="15.6" textLength="109.4" lengthAdjust="spacingAndGlyphs" stroke="#000" stroke-width="0.2">Dice Coefficient</text>
<line x1="87.2" y1="369.7" x2="87.2" y2="389.5" stroke="#000" stroke-width="1.3"/>
<line x1="87.2" y1="408.7" x2="87.2" y2="424.2" stroke="#000" stroke-width="1.3"/>
<rect x="72.10" y="390.20" width="30.20" height="17.80" fill="#1b9e77" stroke="#000" stroke-width="1.4"/>
<line x1="72.10" y1="396.0" x2="102.30" y2="396.0" stroke="#000" stroke-width="3"/>
<line x1="131.7" y1="305.7" x2="131.7" y2="329.0" stroke="#000" stroke-width="1.3"/>
<line x1="131.7" y1="373.4" x2="131.7" y2="433.3" stroke="#000" stroke-width="1.3"/>
<rect x="116.60" y="329.70" width="30.20" height="43.00" fill="#d95f02" stroke="#000" stroke-width="1.4"/>
<line x1="116.60" y1="344.2" x2="146.80" y2="344.2" stroke="#000" stroke-width="3"/>
<circle cx="131.7" cy="446.9" r="2.6" fill="#000"/>
<circle cx="131.7" cy="449.7" r="2.6" fill="#000"/>
<line x1="176.2" y1="285.8" x2="176.2" y2="292.3" stroke="#000" stroke-width="1.3"/>
<line x1="176.2" y1="307.7" x2="176.2" y2="325.8" stroke="#000" stroke-width="1.3"/>
<rect x="161.10" y="293.00" width="30.20" height="14.00" fill="#7570b3" stroke="#000" stroke-width="1.4"/>
<line x1="161.10" y1="298.1" x2="191.30" y2="298.1" stroke="#000" stroke-width="3"/>
<circle cx="176.2" cy="345.7" r="2.6" fill="#000"/>
<circle cx="176.2" cy="351.5" r="2.6" fill="#000"/>
<line x1="220.6" y1="290.8" x2="220.6" y2="294.6" stroke="#000" stroke-width="1.3"/>
<line x1="220.6" y1="310.4" x2="220.6" y2="324.4" stroke="#000" stroke-width="1.3"/>
<rect x="205.50" y="295.30" width="30.20" height="14.40" fill="#e7298a" stroke="#000" stroke-width="1.4"/>
<line x1="205.50" y1="301.9" x2="235.70" y2="301.9" stroke="#000" stroke-width="3"/>
<circle cx="220.6" cy="335.5" r="2.6" fill="#000"/>
<circle cx="220.6" cy="337.0" r="2.6" fill="#000"/>
<path d="M131.5,235.4 V233.1 H220.6 V235.4" fill="none" stroke="#333" stroke-width="1"/>
<text x="175.9" y="233.60" text-anchor="middle" font-family="'Liberation Sans', Arial, sans-serif" font-size="14.3" font-weight="bold" fill="#000">*</text>
<path d="M131.5,249.4 V247.1 H176.8 V249.4" fill="none" stroke="#333" stroke-width="1"/>
<text x="153.4" y="247.60" text-anchor="middle" font-family="'Liberation Sans', Arial, sans-serif" font-size="14.3" font-weight="bold" fill="#000">*</text>
<path d="M87.2,263.1 V260.8 H220.6 V263.1" fill="none" stroke="#333" stroke-width="1"/>
<text x="153.4" y="261.30" text-anchor="middle" font-family="'Liberation Sans', Arial, sans-serif" font-size="14.3" font-weight="bold" fill="#000">*</text>
<path d="M87.2,277.2 V274.9 H176.8 V277.2" fill="none" stroke="#333" stroke-width="1"/>
<text x="131.5" y="275.40" text-anchor="middle" font-family="'Liberation Sans', Arial, sans-serif" font-size="14.3" font-weight="bold" fill="#000">*</text>
<path d="M87.2,290.90000000000003 V288.6 H131.5 V290.90000000000003" fill="none" stroke="#333" stroke-width="1"/>
<text x="109.6" y="289.10" text-anchor="middle" font-family="'Liberation Sans', Arial, sans-serif" font-size="14.3" font-weight="bold" fill="#000">*</text>
<text x="261.4" y="230.6" font-family="'Liberation Sans', Arial, sans-serif" font-weight="bold" font-size="18.8" stroke="#000" stroke-width="0.4">C</text>
<text x="358.5" y="227.8" text-anchor="middle" font-family="'Liberation Sans', Arial, sans-serif" font-size="14.1" fill="#1b9e77" textLength="66.3" lengthAdjust="spacingAndGlyphs" stroke="#1b9e77" stroke-width="0.25">FreeSurfer</text>
<text x="447.3" y="227.8" text-anchor="middle" font-family="'Liberation Sans', Arial, sans-serif" font-size="14.1" fill="#d95f02" textLength="78.0" lengthAdjust="spacingAndGlyphs" stroke="#d95f02" stroke-width="0.25">ASCHOPLEX</text>
<text x="536.4" y="227.8" text-anchor="middle" font-family="'Liberation Sans', Arial, sans-serif" font-size="14.1" fill="#7570b3" textLength="78.2" lengthAdjust="spacingAndGlyphs" stroke="#7570b3" stroke-width="0.25">ASCHOPLEX</text>
<text x="624.7" y="227.8" text-anchor="middle" font-family="'Liberation Sans', Arial, sans-serif" font-size="14.1" fill="#e7298a" textLength="78.0" lengthAdjust="spacingAndGlyphs" stroke="#e7298a" stroke-width="0.25">ASCHOPLEX</text>
<text x="536.1" y="241.5" text-anchor="middle" font-family="'Liberation Sans', Arial, sans-serif" font-size="11.1" fill="#7570b3" stroke="#7570b3" stroke-width="0.25" textLength="48.4" lengthAdjust="spacingAndGlyphs">Finetuned</text>
<text x="536.5" y="255.2" text-anchor="middle" font-family="'Liberation Sans', Arial, sans-serif" font-size="11.1" fill="#7570b3" stroke="#7570b3" stroke-width="0.25" textLength="65.1" lengthAdjust="spacingAndGlyphs">Deterministic</text>
<text x="624.7" y="241.5" text-anchor="middle" font-family="'Liberation Sans', Arial, sans-serif" font-size="11.1" fill="#e7298a" stroke="#e7298a" stroke-width="0.25" textLength="48.8" lengthAdjust="spacingAndGlyphs">Finetuned</text>
<text x="624.8" y="255.2" text-anchor="middle" font-family="'Liberation Sans', Arial, sans-serif" font-size="11.1" fill="#e7298a" stroke="#e7298a" stroke-width="0.25" textLength="58.9" lengthAdjust="spacingAndGlyphs">Probabilistic</text>
<text transform="translate(274.2,344.2) rotate(-90)" x="0" y="0" text-anchor="middle" font-family="'Liberation Sans', Arial, sans-serif" font-size="15.4" textLength="107.6" lengthAdjust="spacingAndGlyphs" stroke="#000" stroke-width="0.2">Dice Coefficient</text>
<line x1="323.1" y1="258.0" x2="323.1" y2="340.75" stroke="#111" stroke-width="1.8"/>
<line x1="319.1" y1="339.95" x2="323.1" y2="339.95" stroke="#333" stroke-width="1.7"/>
<text x="316.6" y="344.40" text-anchor="end" font-family="'Liberation Sans', Arial, sans-serif" font-size="13" fill="#4d4d4d">0.0</text>
<line x1="319.1" y1="321.03" x2="323.1" y2="321.03" stroke="#333" stroke-width="1.7"/>
<text x="316.6" y="325.48" text-anchor="end" font-family="'Liberation Sans', Arial, sans-serif" font-size="13" fill="#4d4d4d">0.2</text>
<line x1="319.1" y1="302.11" x2="323.1" y2="302.11" stroke="#333" stroke-width="1.7"/>
<text x="316.6" y="306.56" text-anchor="end" font-family="'Liberation Sans', Arial, sans-serif" font-size="13" fill="#4d4d4d">0.4</text>
<line x1="319.1" y1="283.19" x2="323.1" y2="283.19" stroke="#333" stroke-width="1.7"/>
<text x="316.6" y="287.64" text-anchor="end" font-family="'Liberation Sans', Arial, sans-serif" font-size="13" fill="#4d4d4d">0.6</text>
<line x1="319.1" y1="264.27" x2="323.1" y2="264.27" stroke="#333" stroke-width="1.7"/>
<text x="316.6" y="268.72" text-anchor="end" font-family="'Liberation Sans', Arial, sans-serif" font-size="13" fill="#4d4d4d">0.8</text>
<line x1="322.3" y1="339.95" x2="401.7" y2="339.95" stroke="#111" stroke-width="1.8"/>
<line x1="408.5" y1="339.95" x2="487.9" y2="339.95" stroke="#111" stroke-width="1.8"/>
<line x1="494.8" y1="339.95" x2="574.2" y2="339.95" stroke="#111" stroke-width="1.8"/>
<line x1="581.0" y1="339.95" x2="660.4" y2="339.95" stroke="#111" stroke-width="1.8"/>
<rect x="661.6" y="259.2" width="30" height="80.7" fill="#fff" stroke="#000" stroke-width="2.4"/>
<text transform="translate(677.2,299.0) rotate(-90)" x="0" y="0" text-anchor="middle" font-family="'Liberation Sans', Arial, sans-serif" font-size="13" fill="#1a1a1a">ASD</text>
<line x1="323.1" y1="348.3" x2="323.1" y2="431.8" stroke="#111" stroke-width="1.8"/>
<line x1="319.1" y1="431.00" x2="323.1" y2="431.00" stroke="#333" stroke-width="1.7"/>
<text x="316.6" y="435.45" text-anchor="end" font-family="'Liberation Sans', Arial, sans-serif" font-size="13" fill="#4d4d4d">0.0</text>
<line x1="319.1" y1="412.08" x2="323.1" y2="412.08" stroke="#333" stroke-width="1.7"/>
<text x="316.6" y="416.53" text-anchor="end" font-family="'Liberation Sans', Arial, sans-serif" font-size="13" fill="#4d4d4d">0.2</text>
<line x1="319.1" y1="393.16" x2="323.1" y2="393.16" stroke="#333" stroke-width="1.7"/>
<text x="316.6" y="397.61" text-anchor="end" font-family="'Liberation Sans', Arial, sans-serif" font-size="13" fill="#4d4d4d">0.4</text>
<line x1="319.1" y1="374.24" x2="323.1" y2="374.24" stroke="#333" stroke-width="1.7"/>
<text x="316.6" y="378.69" text-anchor="end" font-family="'Liberation Sans', Arial, sans-serif" font-size="13" fill="#4d4d4d">0.6</text>
<line x1="319.1" y1="355.32" x2="323.1" y2="355.32" stroke="#333" stroke-width="1.7"/>
<text x="316.6" y="359.77" text-anchor="end" font-family="'Liberation Sans', Arial, sans-serif" font-size="13" fill="#4d4d4d">0.8</text>
<line x1="322.3" y1="431.0" x2="401.7" y2="431.0" stroke="#111" stroke-width="1.8"/>
<line x1="344.55" y1="431.0" x2="344.55" y2="434.9" stroke="#333" stroke-width="1.6"/>
<line x1="380.30" y1="431.0" x2="380.30" y2="434.9" stroke="#333" stroke-width="1.6"/>
<line x1="408.5" y1="431.0" x2="487.9" y2="431.0" stroke="#111" stroke-width="1.8"/>
<line x1="430.75" y1="431.0" x2="430.75" y2="434.9" stroke="#333" stroke-width="1.6"/>
<line x1="466.50" y1="431.0" x2="466.50" y2="434.9" stroke="#333" stroke-width="1.6"/>
<line x1="494.8" y1="431.0" x2="574.2" y2="431.0" stroke="#111" stroke-width="1.8"/>
<line x1="517.05" y1="431.0" x2="517.05" y2="434.9" stroke="#333" stroke-width="1.6"/>
<line x1="552.80" y1="431.0" x2="552.80" y2="434.9" stroke="#333" stroke-width="1.6"/>
<line x1="581.0" y1="431.0" x2="660.4" y2="431.0" stroke="#111" stroke-width="1.8"/>
<line x1="603.25" y1="431.0" x2="603.25" y2="434.9" stroke="#333" stroke-width="1.6"/>
<line x1="639.00" y1="431.0" x2="639.00" y2="434.9" stroke="#333" stroke-width="1.6"/>
<rect x="661.6" y="349.5" width="30" height="81.5" fill="#fff" stroke="#000" stroke-width="2.4"/>
<text transform="translate(677.2,389.6) rotate(-90)" x="0" y="0" text-anchor="middle" font-family="'Liberation Sans', Arial, sans-serif" font-size="13" fill="#1a1a1a">CON</text>
<text transform="translate(350.95,444.7) rotate(-45)" x="0" y="0" text-anchor="end" font-family="'Liberation Sans', Arial, sans-serif" font-size="13" fill="#4d4d4d">male</text>
<text transform="translate(386.70,444.7) rotate(-45)" x="0" y="0" text-anchor="end" font-family="'Liberation Sans', Arial, sans-serif" font-size="13" fill="#4d4d4d">female</text>
<text transform="translate(437.15,444.7) rotate(-45)" x="0" y="0" text-anchor="end" font-family="'Liberation Sans', Arial, sans-serif" font-size="13" fill="#4d4d4d">male</text>
<text transform="translate(472.90,444.7) rotate(-45)" x="0" y="0" text-anchor="end" font-family="'Liberation Sans', Arial, sans-serif" font-size="13" fill="#4d4d4d">female</text>
<text transform="translate(523.45,444.7) rotate(-45)" x="0" y="0" text-anchor="end" font-family="'Liberation Sans', Arial, sans-serif" font-size="13" fill="#4d4d4d">male</text>
<text transform="translate(559.20,444.7) rotate(-45)" x="0" y="0" text-anchor="end" font-family="'Liberation Sans', Arial, sans-serif" font-size="13" fill="#4d4d4d">female</text>
<text transform="translate(609.65,444.7) rotate(-45)" x="0" y="0" text-anchor="end" font-family="'Liberation Sans', Arial, sans-serif" font-size="13" fill="#4d4d4d">male</text>
<text transform="translate(645.40,444.7) rotate(-45)" x="0" y="0" text-anchor="end" font-family="'Liberation Sans', Arial, sans-serif" font-size="13" fill="#4d4d4d">female</text>
<line x1="344.50" y1="299.2" x2="344.50" y2="323.7" stroke="#000" stroke-width="1.3"/>
<rect x="332.10" y="307.50" width="24.80" height="8.50" fill="#c6e7dd" stroke="#000" stroke-width="1.4"/>
<line x1="332.10" y1="312.0" x2="356.90" y2="312.0" stroke="#000" stroke-width="2.6"/>
<line x1="380.05" y1="299.9" x2="380.05" y2="326.8" stroke="#000" stroke-width="1.3"/>
<rect x="367.90" y="310.70" width="24.30" height="13.40" fill="#54b699" stroke="#000" stroke-width="1.4"/>
<line x1="367.90" y1="316.4" x2="392.20" y2="316.4" stroke="#000" stroke-width="2.6"/>
<line x1="430.70" y1="271.8" x2="430.70" y2="339.9" stroke="#000" stroke-width="1.3"/>
<rect x="418.30" y="282.20" width="24.80" height="27.20" fill="#f6d7c0" stroke="#000" stroke-width="1.4"/>
<line x1="418.30" y1="298.4" x2="443.10" y2="298.4" stroke="#000" stroke-width="2.6"/>
<line x1="466.45" y1="274.6" x2="466.45" y2="331.7" stroke="#000" stroke-width="1.3"/>
<rect x="454.10" y="286.80" width="24.70" height="31.20" fill="#e28741" stroke="#000" stroke-width="1.4"/>
<line x1="454.10" y1="296.2" x2="478.80" y2="296.2" stroke="#000" stroke-width="2.6"/>
<line x1="516.90" y1="259.1" x2="516.90" y2="277.7" stroke="#000" stroke-width="1.3"/>
<rect x="504.60" y="260.90" width="24.60" height="7.10" fill="#dcdbec" stroke="#000" stroke-width="1.4"/>
<line x1="504.60" y1="263.4" x2="529.20" y2="263.4" stroke="#000" stroke-width="2.6"/>
<circle cx="516.9" cy="290.1" r="2.9" fill="#bebebe"/>
<line x1="552.60" y1="259.1" x2="552.60" y2="287.2" stroke="#000" stroke-width="1.3"/>
<rect x="540.10" y="260.60" width="25.00" height="12.30" fill="#9894c6" stroke="#000" stroke-width="1.4"/>
<line x1="540.10" y1="263.6" x2="565.10" y2="263.6" stroke="#000" stroke-width="2.6"/>
<line x1="603.05" y1="259.9" x2="603.05" y2="276.5" stroke="#000" stroke-width="1.3"/>
<rect x="590.80" y="261.60" width="24.50" height="6.00" fill="#f9cae2" stroke="#000" stroke-width="1.4"/>
<line x1="590.80" y1="263.0" x2="615.30" y2="263.0" stroke="#000" stroke-width="2.6"/>
<circle cx="603.2" cy="283.1" r="2.9" fill="#bebebe"/>
<line x1="639.00" y1="260.5" x2="639.00" y2="282.1" stroke="#000" stroke-width="1.3"/>
<rect x="626.80" y="261.80" width="24.40" height="9.90" fill="#ed5ea7" stroke="#000" stroke-width="1.4"/>
<line x1="626.80" y1="263.4" x2="651.20" y2="263.4" stroke="#000" stroke-width="2.6"/>
<line x1="344.50" y1="392.9" x2="344.50" y2="413.7" stroke="#000" stroke-width="1.3"/>
<rect x="332.10" y="399.70" width="24.80" height="8.90" fill="#c6e7dd" stroke="#000" stroke-width="1.4"/>
<line x1="332.10" y1="402.0" x2="356.90" y2="402.0" stroke="#000" stroke-width="2.6"/>
<line x1="380.15" y1="398.4" x2="380.15" y2="414.8" stroke="#000" stroke-width="1.3"/>
<rect x="367.90" y="404.10" width="24.50" height="5.20" fill="#54b699" stroke="#000" stroke-width="1.4"/>
<line x1="367.90" y1="408.3" x2="392.40" y2="408.3" stroke="#000" stroke-width="2.6"/>
<line x1="430.65" y1="361.1" x2="430.65" y2="376.9" stroke="#000" stroke-width="1.3"/>
<rect x="418.40" y="365.00" width="24.50" height="9.80" fill="#f6d7c0" stroke="#000" stroke-width="1.4"/>
<line x1="418.40" y1="371.7" x2="442.90" y2="371.7" stroke="#000" stroke-width="2.6"/>
<line x1="466.40" y1="357.9" x2="466.40" y2="406.5" stroke="#000" stroke-width="1.3"/>
<rect x="454.20" y="367.50" width="24.40" height="15.50" fill="#e28741" stroke="#000" stroke-width="1.4"/>
<line x1="454.20" y1="379.5" x2="478.60" y2="379.5" stroke="#000" stroke-width="2.6"/>
<line x1="516.95" y1="348.2" x2="516.95" y2="363.1" stroke="#000" stroke-width="1.3"/>
<rect x="504.80" y="351.80" width="24.30" height="5.00" fill="#dcdbec" stroke="#000" stroke-width="1.4"/>
<line x1="504.80" y1="355.8" x2="529.10" y2="355.8" stroke="#000" stroke-width="2.6"/>
<line x1="552.55" y1="350.3" x2="552.55" y2="361.0" stroke="#000" stroke-width="1.3"/>
<rect x="540.10" y="351.00" width="24.90" height="8.20" fill="#9894c6" stroke="#000" stroke-width="1.4"/>
<line x1="540.10" y1="353.2" x2="565.00" y2="353.2" stroke="#000" stroke-width="2.6"/>
<line x1="602.95" y1="351.1" x2="602.95" y2="366.9" stroke="#000" stroke-width="1.3"/>
<rect x="590.60" y="355.60" width="24.70" height="5.30" fill="#f9cae2" stroke="#000" stroke-width="1.4"/>
<line x1="590.60" y1="359.6" x2="615.30" y2="359.6" stroke="#000" stroke-width="2.6"/>
<line x1="638.80" y1="352.6" x2="638.80" y2="365.7" stroke="#000" stroke-width="1.3"/>
<rect x="626.50" y="353.90" width="24.60" height="5.80" fill="#ed5ea7" stroke="#000" stroke-width="1.4"/>
<line x1="626.50" y1="356.6" x2="651.10" y2="356.6" stroke="#000" stroke-width="2.6"/>
</svg>
</body></html>
